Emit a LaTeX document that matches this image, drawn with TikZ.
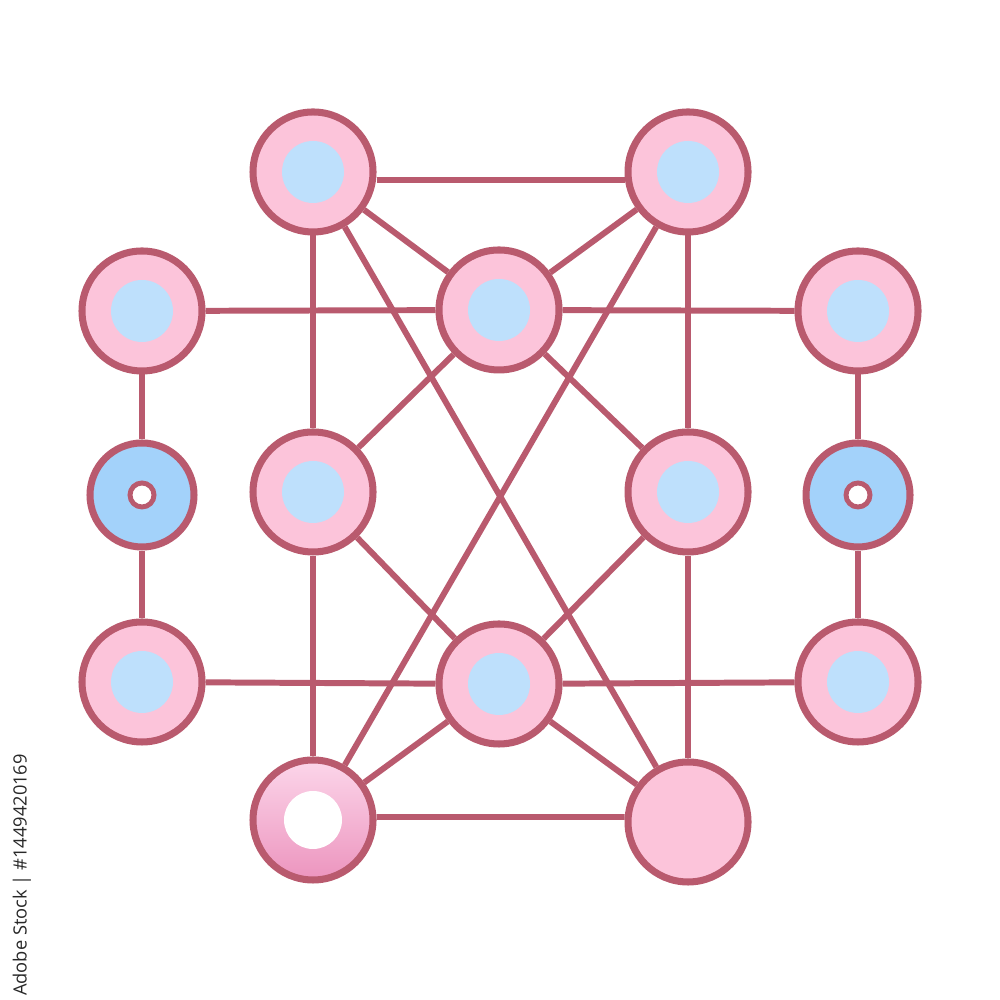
\documentclass[tikz,border=0pt]{standalone}
\usepackage{fontspec}
\newfontfamily\stockfont{Open Sans}
\usetikzlibrary{positioning}
\definecolor{rim}{RGB}{185,90,110}
\definecolor{petal}{RGB}{252,196,218}
\definecolor{sky}{RGB}{190,224,252}
\definecolor{pool}{RGB}{163,210,250}
\definecolor{blushtop}{RGB}{252,214,234}
\definecolor{blushbot}{RGB}{236,148,190}
\definecolor{stockgray}{RGB}{40,40,40}

\begin{document}
\begin{tikzpicture}[
    hub/.style={circle, draw=rim, fill=petal, line width=2pt, minimum size=12mm, inner sep=0pt},
    core/.style={hub, path picture={\fill[sky] (path picture bounding box.center) circle (3.1mm);}},
    port/.style={hub, fill=pool, minimum size=10.4mm,
        path picture={\draw[rim, fill=white, line width=1.4pt] (path picture bounding box.center) circle (1.2mm);}},
    link/.style={draw=rim, line width=1.7pt}
]
    \useasboundingbox (0,0) rectangle (10,10);

    % Top pair
    \node[core] (tl) at (3.13, 8.28) {};
    \node[core] (tr) at (6.88, 8.28) {};

    % Upper row
    \node[core] (lu) at (1.42, 6.89) {};
    \node[core] (ct) at (4.99, 6.90) {};
    \node[core] (ru) at (8.58, 6.89) {};

    % Middle row
    \node[port] (lp) at (1.42, 5.05) {};
    \node[core] (ml) at (3.13, 5.08) {};
    \node[core] (mr) at (6.88, 5.08) {};
    \node[port] (rp) at (8.58, 5.05) {};

    % Lower row
    \node[core] (ll) at (1.42, 3.18) {};
    \node[core] (cb) at (4.99, 3.16) {};
    \node[core] (rl) at (8.58, 3.18) {};

    % Bottom pair
    \node[hub, top color=blushtop, bottom color=blushbot,
        path picture={\fill[white] (path picture bounding box.center) circle (2.9mm);}] (bl) at (3.13, 1.80) {};
    \node[hub] (br) at (6.88, 1.78) {};

    % Connectors
    \draw[link] ([yshift=-0.8mm]tl.east) -- ([yshift=-0.8mm]tr.west);
    \draw[link] ([yshift=0.3mm]bl.east) -- ([yshift=0.5mm]br.west);
    \foreach \a/\b in {tl/ct, tr/ct, lu/ct, ct/ru, lu/lp, lp/ll, ru/rp, rp/rl,
                       tl/ml, tr/mr, ct/ml, ct/mr, tl/br, tr/bl, ml/cb, mr/cb,
                       ml/bl, mr/br, ll/cb, cb/rl, cb/bl, cb/br} {
        \draw[link] (\a) -- (\b);
    }

    % Stock tag
    \node[rotate=90, text=stockgray, inner sep=0pt, font=\stockfont\fontsize{5.2}{6}\selectfont] (tag) at (0.22, 1.25) {Adobe Stock | \#1449420169};
\end{tikzpicture}
\end{document}
